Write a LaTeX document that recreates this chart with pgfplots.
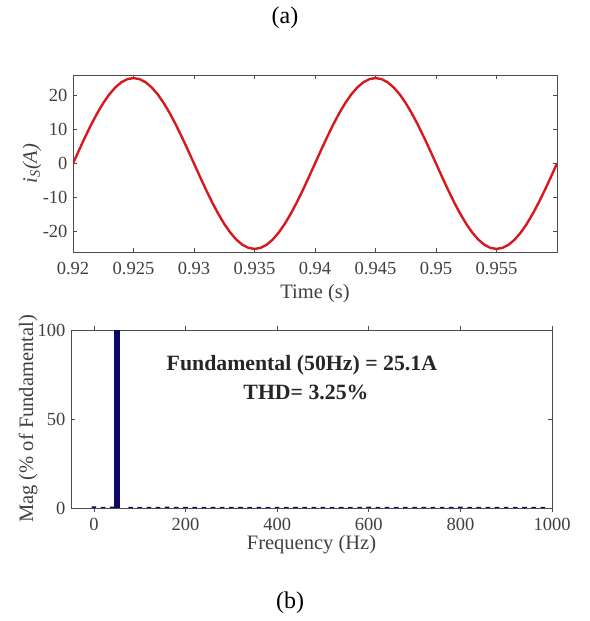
\documentclass[border=0pt]{standalone}
\usepackage{pgfplots}
\pgfplotsset{compat=1.18}
\usepackage{fontspec}
\setmainfont{Liberation Serif}
\definecolor{sigred}{RGB}{215,25,30}
\definecolor{barblue}{RGB}{10,10,100}

\pgfplotstableread{
t i
0.9200 0
0.9205 3.93
0.9210 7.76
0.9215 11.40
0.9220 14.75
0.9225 17.75
0.9230 20.31
0.9235 22.36
0.9240 23.87
0.9245 24.79
0.9250 25.10
0.9255 24.79
0.9260 23.87
0.9265 22.36
0.9270 20.31
0.9275 17.75
0.9280 14.75
0.9285 11.40
0.9290 7.76
0.9295 3.93
0.9300 0
0.9305 -3.93
0.9310 -7.76
0.9315 -11.40
0.9320 -14.75
0.9325 -17.75
0.9330 -20.31
0.9335 -22.36
0.9340 -23.87
0.9345 -24.79
0.9350 -25.10
0.9355 -24.79
0.9360 -23.87
0.9365 -22.36
0.9370 -20.31
0.9375 -17.75
0.9380 -14.75
0.9385 -11.40
0.9390 -7.76
0.9395 -3.93
0.9400 0
0.9405 3.93
0.9410 7.76
0.9415 11.40
0.9420 14.75
0.9425 17.75
0.9430 20.31
0.9435 22.36
0.9440 23.87
0.9445 24.79
0.9450 25.10
0.9455 24.79
0.9460 23.87
0.9465 22.36
0.9470 20.31
0.9475 17.75
0.9480 14.75
0.9485 11.40
0.9490 7.76
0.9495 3.93
0.9500 0
0.9505 -3.93
0.9510 -7.76
0.9515 -11.40
0.9520 -14.75
0.9525 -17.75
0.9530 -20.31
0.9535 -22.36
0.9540 -23.87
0.9545 -24.79
0.9550 -25.10
0.9555 -24.79
0.9560 -23.87
0.9565 -22.36
0.9570 -20.31
0.9575 -17.75
0.9580 -14.75
0.9585 -11.40
0.9590 -7.76
0.9595 -3.93
0.9600 0
}\current

\pgfplotstableread{
f mag
0 0.9
20 0.7
40 0.8
80 0.7
100 0.6
120 0.7
140 0.6
160 0.8
180 0.6
200 0.7
220 0.6
240 0.6
260 0.7
280 0.6
300 0.6
320 0.7
340 0.6
360 0.6
380 0.7
400 0.6
420 0.6
440 0.7
460 0.6
480 0.6
500 0.7
520 0.6
540 0.6
560 0.7
580 0.6
600 0.8
620 0.6
640 0.6
660 0.7
680 0.6
700 0.6
720 0.7
740 0.6
760 0.6
780 0.7
800 0.8
820 0.6
840 0.6
860 0.7
880 0.6
900 0.6
920 0.7
940 0.6
960 0.6
980 0.7
}\harm

\begin{document}
\begin{tikzpicture}[font=\fontsize{18.5}{22}\selectfont]
\useasboundingbox (0,0) rectangle (589pt,621pt);
\pgfplotsset{every axis/.append style={
  scale only axis,
  axis line style={black!70, line width=0.8pt},
  tick style={black!70, line width=0.6pt},
  tick align=inside,
  major tick length=4pt,
  /pgf/number format/assume math mode=true,
  /pgf/number format/1000 sep={},
  ticklabel style={font=\fontsize{18.5}{22}\selectfont, text=black!75},
  label style={font=\fontsize{20.5}{24}\selectfont, text=black!75},
  yticklabel style={xshift=-2pt},
}}

% (a) source current
\begin{axis}[
  at={(73pt,369pt)}, anchor=south west,
  width=484pt, height=177pt,
  xmin=0.92, xmax=0.96, ymin=-26, ymax=26,
  xtick={0.92,0.925,0.93,0.935,0.94,0.945,0.95,0.955},
  xticklabels={0.92,0.925,0.93,0.935,0.94,0.945,0.95,0.955},
  xticklabel style={yshift=-7pt},
  ytick={-20,-10,0,10,20},
  xlabel={Time (s)},
  xlabel style={at={(axis description cs:0.5,-0.237)}, anchor=center},
  ylabel={\textit{i}\textsubscript{\textit{S}}\textit{(A)}},
  ylabel style={at={(axis description cs:-0.085,0.5)}, anchor=center},
]
\addplot[sigred, line width=2.4pt] table[x=t, y=i] {\current};
\end{axis}

% (b) FFT spectrum
\begin{axis}[
  at={(71pt,113pt)}, anchor=south west,
  width=481pt, height=178pt,
  xmin=-50, xmax=1000, ymin=0, ymax=100,
  xtick={0,200,400,600,800,1000},
  xticklabel style={yshift=-3pt},
  ytick={0,50,100},
  xlabel={Frequency (Hz)},
  xlabel style={at={(axis description cs:0.5,-0.208)}, anchor=center},
  ylabel={Mag (\% of Fundamental)},
  ylabel style={at={(axis description cs:-0.089,0.5)}, anchor=center},
  ybar, bar shift=0pt,
]
\addplot[fill=barblue, draw=none, bar width=10] table[x=f, y=mag] {\harm};
\addplot[fill=barblue, draw=none, bar width=12] coordinates {(50,100)};
\node[font=\bfseries\fontsize{21.8}{25}\selectfont, text=black!85] at (axis cs:454,80.3) {Fundamental (50Hz) = 25.1A};
\node[font=\bfseries\fontsize{21.8}{25}\selectfont, text=black!85] at (axis cs:463,65.2) {THD= 3.25\%};
\end{axis}

\node[font=\fontsize{24}{28}\selectfont] at (285pt,603pt) {(a)};
\node[font=\fontsize{24}{28}\selectfont] at (290pt,18pt) {(b)};
\end{tikzpicture}
\end{document}
